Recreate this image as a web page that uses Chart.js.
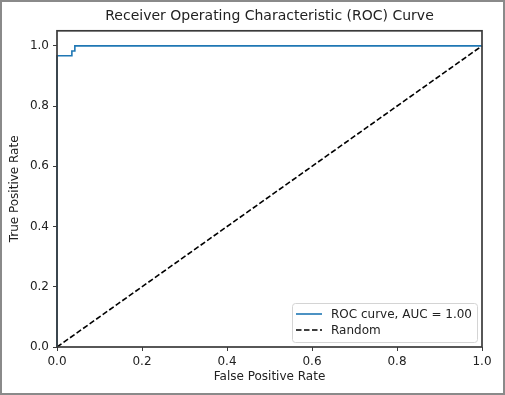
<!DOCTYPE html>
<html>
<head>
<meta charset="utf-8">
<title>ROC Curve</title>
<script src="https://cdn.jsdelivr.net/npm/chart.js@4.4.0/dist/chart.umd.min.js"></script>
<style>
  html, body { margin: 0; padding: 0; background: #fff; }
  #wrap { width: 505px; height: 395px; }
</style>
</head>
<body>
<div id="wrap"><canvas id="rocChart" width="505" height="395"></canvas></div>
<script>
// data
const fpr = [0, 0, 0.035, 0.035, 0.042, 0.042, 1.0];
const tpr = [0, 0.967, 0.967, 0.983, 0.983, 1.0, 1.0];
const randomFpr = [0, 1];
const randomTpr = [0, 1];
const xTicks = [0, 0.2, 0.4, 0.6, 0.8, 1.0];
const yTicks = [0, 0.2, 0.4, 0.6, 0.8, 1.0];
const rocLabel = 'ROC curve, AUC = 1.00';
const randomLabel = 'Random';

const FONT = 'DejaVu Sans';
const TEXT = '#222';
const SPINE = '#3a3a3a';

function toPoints(xs, ys) {
  return xs.map((x, i) => ({ x: x, y: ys[i] }));
}

// draws the four spines over the lines, a matplotlib-like legend and the image frame
const decorPlugin = {
  id: 'decor',
  afterDatasetsDraw(chart) {
    const ctx = chart.ctx;
    const a = chart.chartArea;
    ctx.save();
    ctx.strokeStyle = SPINE;
    ctx.lineWidth = 1.7;
    ctx.strokeRect(a.left, a.top, a.right - a.left, a.bottom - a.top);

    // legend
    ctx.font = '12px "' + FONT + '"';
    const items = chart.data.datasets;
    let tw = 0;
    items.forEach(ds => { tw = Math.max(tw, ctx.measureText(ds.label).width); });
    const w = tw + 44;
    const h = 39;
    const x0 = a.right - 5 - w;
    const y0 = a.bottom - 5 - h;
    ctx.beginPath();
    ctx.roundRect(x0 + 0.5, y0 + 0.5, w, h, 3);
    ctx.fillStyle = 'rgba(255,255,255,0.85)';
    ctx.fill();
    ctx.strokeStyle = '#d4d4d4';
    ctx.lineWidth = 1;
    ctx.stroke();
    items.forEach((ds, i) => {
      const cy = y0 + 11 + i * 16;
      ctx.beginPath();
      ctx.setLineDash(ds.borderDash || []);
      ctx.strokeStyle = ds.borderColor;
      ctx.lineWidth = ds.borderWidth;
      ctx.moveTo(x0 + 4, cy);
      ctx.lineTo(x0 + 30, cy);
      ctx.stroke();
      ctx.setLineDash([]);
      ctx.fillStyle = TEXT;
      ctx.textBaseline = 'middle';
      ctx.textAlign = 'left';
      ctx.fillText(ds.label, x0 + 39, cy + 1);
    });

    // outer frame of the picture
    ctx.strokeStyle = '#8a8a8a';
    ctx.lineWidth = 2;
    ctx.strokeRect(1, 1, chart.width - 2, chart.height - 2);
    ctx.restore();
  }
};

const rocChart = new Chart(document.getElementById('rocChart').getContext('2d'), {
  type: 'scatter',
  data: {
    datasets: [
      {
        label: rocLabel,
        data: toPoints(fpr, tpr),
        showLine: true,
        borderColor: '#1f77b4',
        borderWidth: 1.6,
        pointRadius: 0,
        fill: false,
        tension: 0,
        clip: false
      },
      {
        label: randomLabel,
        data: toPoints(randomFpr, randomTpr),
        showLine: true,
        borderColor: '#000',
        borderWidth: 1.6,
        borderDash: [5.5, 2.5],
        pointRadius: 0,
        fill: false,
        clip: false
      }
    ]
  },
  options: {
    responsive: false,
    animation: false,
    layout: { padding: { left: 0, right: 23, top: 0, bottom: 0 } },
    plugins: {
      legend: { display: false },
      tooltip: { enabled: false },
      title: {
        display: true,
        fullSize: false,
        text: 'Receiver Operating Characteristic (ROC) Curve',
        color: TEXT,
        font: { family: FONT, size: 14, weight: 'normal' },
        padding: { top: 8, bottom: 6 }
      }
    },
    scales: {
      x: {
        type: 'linear',
        min: 0,
        max: 1,
        border: { display: false },
        grid: { drawOnChartArea: false, drawTicks: true, tickLength: 4, color: SPINE },
        afterBuildTicks: (scale) => { scale.ticks = xTicks.map(v => ({ value: v })); },
        afterFit: (scale) => { scale.height = 48; },
        ticks: {
          color: TEXT,
          padding: 4,
          maxRotation: 0,
          font: { family: FONT, size: 12 },
          callback: (v) => Number(v).toFixed(1)
        },
        title: {
          display: true,
          text: 'False Positive Rate',
          color: TEXT,
          font: { family: FONT, size: 12 },
          padding: { top: 0, bottom: 11 }
        }
      },
      y: {
        type: 'linear',
        min: 0,
        max: 1.05,
        border: { display: false },
        grid: { drawOnChartArea: false, drawTicks: true, tickLength: 4, color: SPINE },
        afterBuildTicks: (scale) => { scale.ticks = yTicks.map(v => ({ value: v })); },
        afterFit: (scale) => { scale.width = 57; },
        ticks: {
          color: TEXT,
          padding: 4,
          font: { family: FONT, size: 12 },
          callback: (v) => Number(v).toFixed(1)
        },
        title: {
          display: true,
          text: 'True Positive Rate',
          color: TEXT,
          font: { family: FONT, size: 12 },
          padding: { top: 8, bottom: 0 }
        }
      }
    }
  },
  plugins: [decorPlugin]
});
</script>
</body>
</html>
